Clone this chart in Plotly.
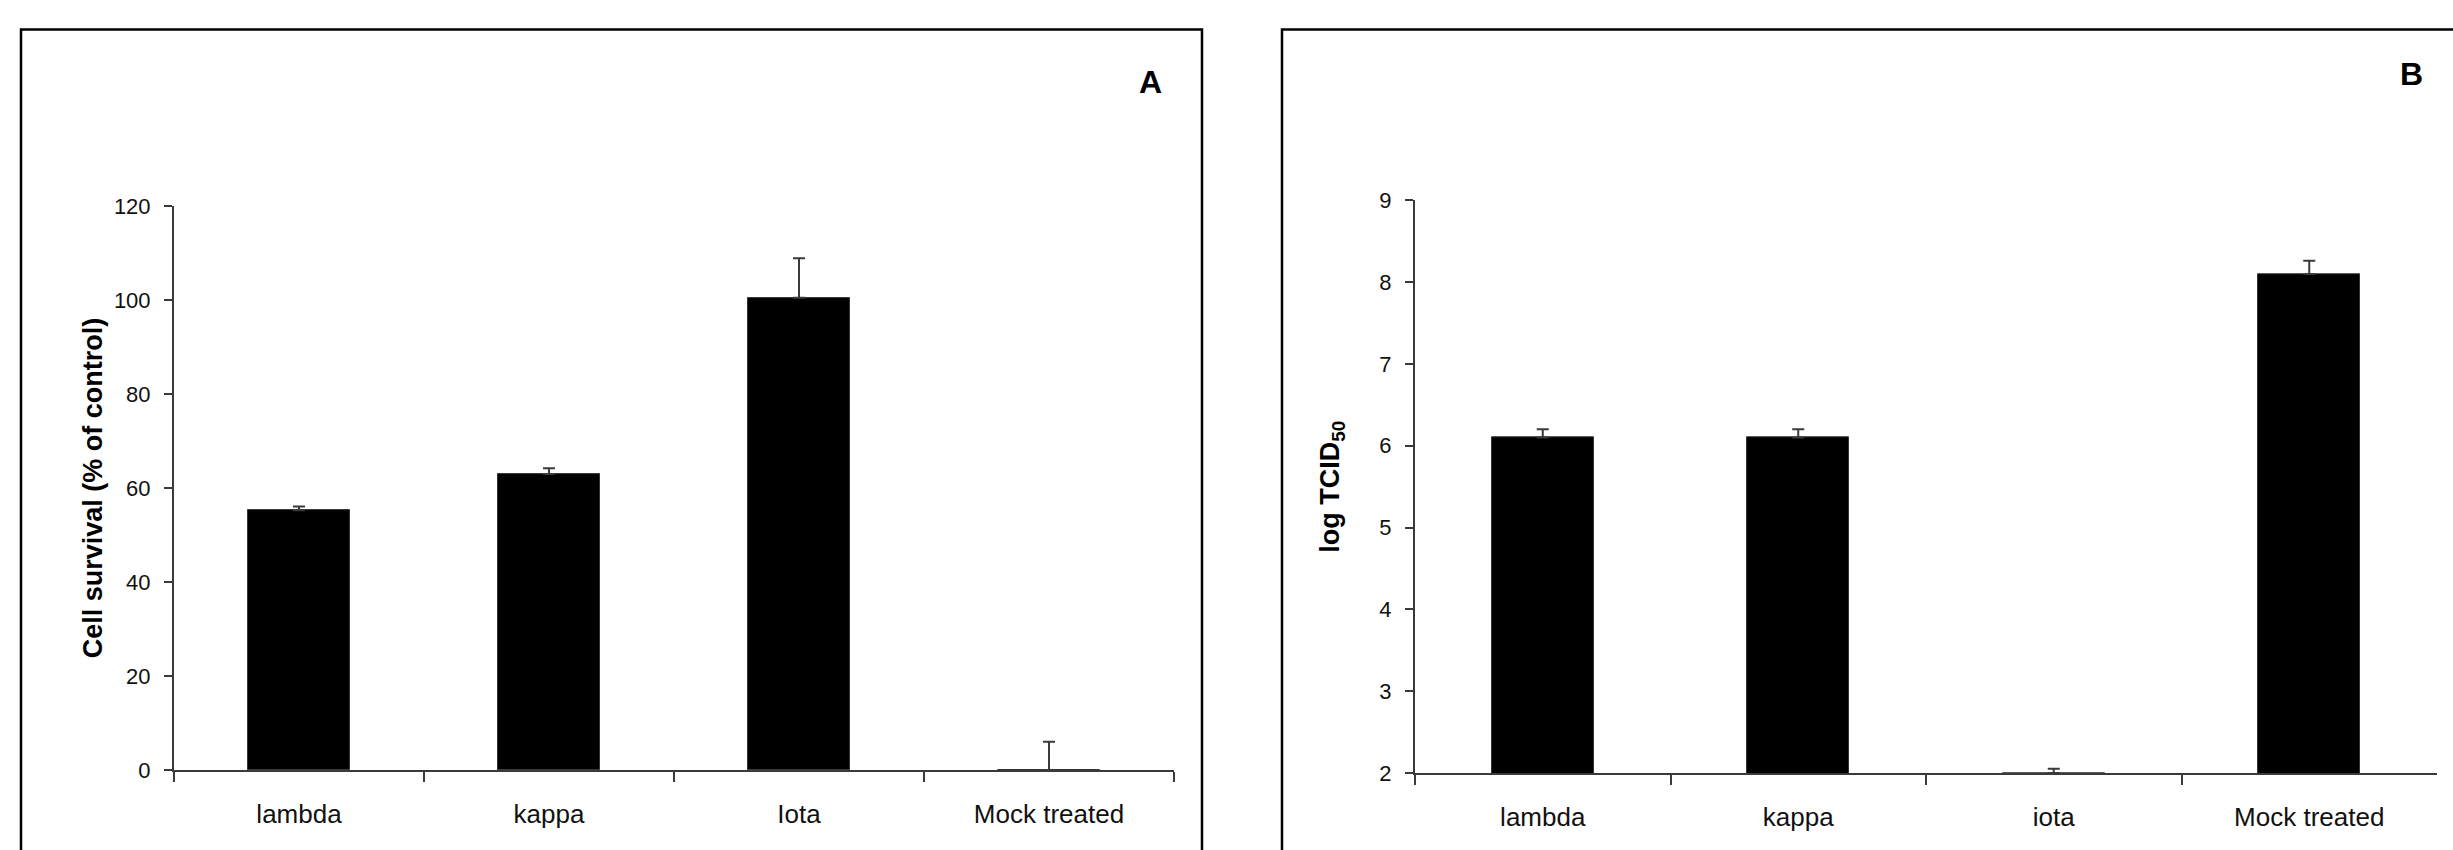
import plotly.graph_objects as go

W, H = 2453, 850

categories_a = ["lambda", "kappa", "Iota", "Mock treated"]
survival = [55.3, 63.0, 100.5, 0.0]
survival_err = [0.8, 1.2, 8.4, 6.0]

categories_b = ["lambda", "kappa", "iota", "Mock treated"]
log_tcid = [6.1, 6.1, 2.0, 8.1]
log_tcid_err = [0.1, 0.1, 0.05, 0.16]

yticks_a = [0, 20, 40, 60, 80, 100, 120]
yticks_b = [2, 3, 4, 5, 6, 7, 8, 9]

FONT = "Liberation Sans, Arial, sans-serif"
AXC = "#3a3a3a"

fig = go.Figure()

def err(arr):
    return dict(type="data", array=arr, symmetric=False, arrayminus=[0] * len(arr),
                color=AXC, thickness=2, width=6)

fig.add_trace(go.Bar(x=categories_a, y=survival, width=0.41,
                     marker=dict(color="black", line=dict(color="#333333", width=1)),
                     error_y=err(survival_err), xaxis="x", yaxis="y", showlegend=False))
fig.add_trace(go.Bar(x=categories_b, y=log_tcid, width=0.40,
                     marker=dict(color="black", line=dict(color="#333333", width=1)),
                     error_y=err(log_tcid_err), xaxis="x2", yaxis="y2", showlegend=False))

common_x = dict(type="category", showline=True, linecolor=AXC, linewidth=2,
                ticks="outside", tickson="boundaries", ticklen=10, tickwidth=2, tickcolor=AXC,
                tickfont=dict(family=FONT, size=26, color="#111"), ticklabelstandoff=20,
                showgrid=False, zeroline=False, fixedrange=True)
common_y = dict(showline=True, linecolor=AXC, linewidth=2, ticks="outside", ticklen=8,
                tickwidth=2, tickcolor=AXC, tickfont=dict(family=FONT, size=22, color="#111"),
                ticklabelstandoff=9, showgrid=False, zeroline=False)

# vertical positions in px from the top of the page
Y0_A, Y1_A = 781, 200
Y0_B, Y1_B = 784, 194
TOP = 18

fig.update_layout(
    width=W, height=H, margin=dict(l=0, r=0, t=0, b=0),
    paper_bgcolor="white", plot_bgcolor="white", bargap=0,
    xaxis=dict(domain=[174 / W, 1174 / W], anchor="y", range=[-0.5, 3.5], **common_x),
    yaxis=dict(domain=[1 - Y0_A / H, 1 - Y1_A / H], anchor="x", range=[0, 120], tickvals=yticks_a,
               title=dict(text="Cell survival (% of control)", standoff=3,
                          font=dict(family=FONT, size=27, color="black", weight="bold")),
               **common_y),
    xaxis2=dict(domain=[1415 / W, 2437 / W], anchor="y2", range=[-0.5, 3.5], **common_x),
    yaxis2=dict(domain=[1 - Y0_B / H, 1 - Y1_B / H], anchor="x2", range=[2, 9], tickvals=yticks_b,
                title=dict(text="log TCID<sub>50</sub>", standoff=32,
                           font=dict(family=FONT, size=27, color="black", weight="bold")),
                **common_y),
    shapes=[
        dict(type="rect", xref="paper", yref="paper", x0=21 / W, x1=1202 / W,
             y0=-0.2, y1=1 - TOP / H, line=dict(color="black", width=2.5)),
        dict(type="rect", xref="paper", yref="paper", x0=1282 / W, x1=1.2,
             y0=-0.2, y1=1 - TOP / H, line=dict(color="black", width=2.5)),
    ],
    annotations=[
        dict(text="<b>A</b>", x=1150 / W, y=1 - 72 / H, xref="paper", yref="paper",
             xanchor="center", yanchor="middle",
             showarrow=False, font=dict(family=FONT, size=32, color="black")),
        dict(text="<b>B</b>", x=2411 / W, y=1 - 64 / H, xref="paper", yref="paper",
             xanchor="center", yanchor="middle",
             showarrow=False, font=dict(family=FONT, size=32, color="black")),
    ],
)

fig.write_html("out.html", config={"displayModeBar": False},
               post_script="document.body.style.margin='0';")
